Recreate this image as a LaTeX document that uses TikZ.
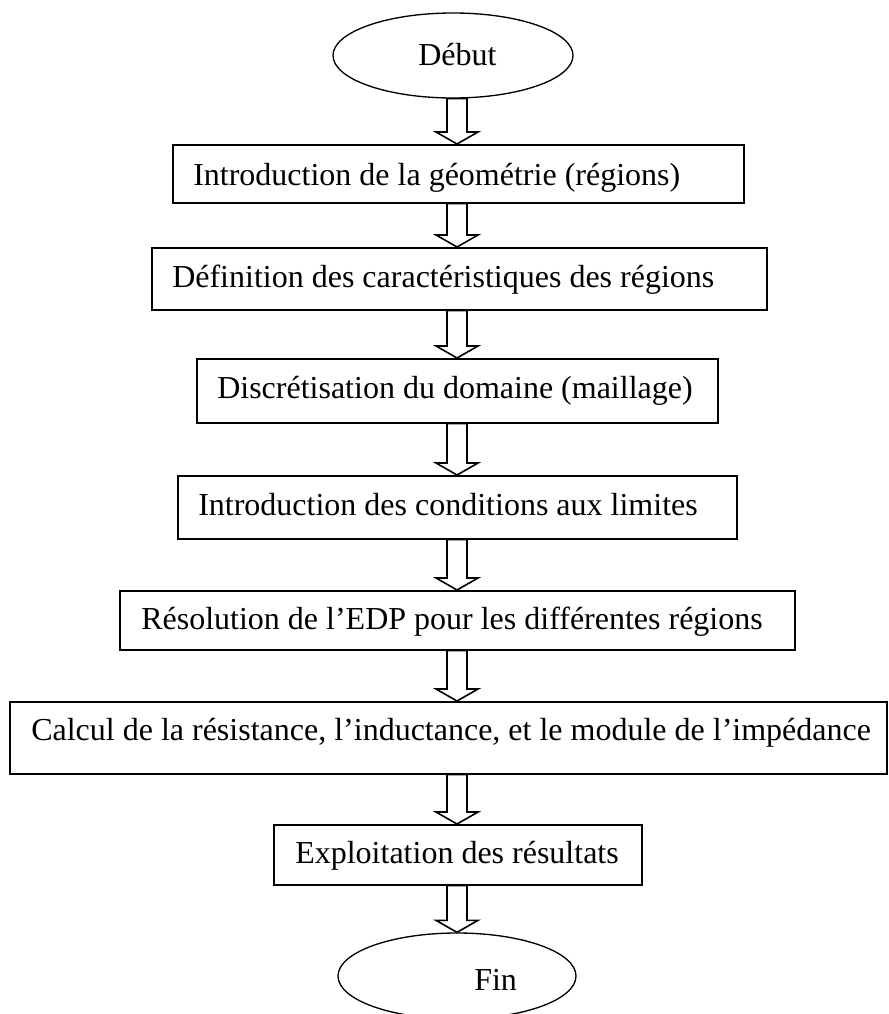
\documentclass[tikz,border=0pt]{standalone}
\usepackage{fontspec}
\setmainfont{Liberation Serif}
\usetikzlibrary{calc,shapes.geometric}

% Hollow block arrow going down from the bottom of one node to the top of the next
\newcommand\flowstep[2]{%
  \draw[hollowarrow]
    ($(ax |- #1.south)+(-10,0)$) -- ($(ax |- #1.south)+(10,0)$)
    -- ($(ax |- #2.north)+(10,-12)$) -- ($(ax |- #2.north)+(21,-12)$)
    -- (ax |- #2.north)
    -- ($(ax |- #2.north)+(-21,-12)$) -- ($(ax |- #2.north)+(-10,-12)$)
    -- cycle;}

\begin{document}
\begin{tikzpicture}[x=0.75pt,y=-0.75pt,
  stepbox/.style 2 args={draw,line width=1.2pt,rectangle,inner sep=0pt,
    anchor=north west,minimum width=#1*0.75pt,minimum height=#2*0.75pt},
  terminal/.style 2 args={draw,line width=1pt,ellipse,inner sep=0pt,
    minimum width=#1*0.75pt,minimum height=#2*0.75pt},
  caption/.style={anchor=base west,inner sep=0pt,font=\fontsize{24}{28}\selectfont},
  hollowarrow/.style={draw,line width=1.2pt,line join=miter}]

\useasboundingbox (0,0) rectangle (889,1014);
\clip (0,0) rectangle (889,1014);

% common vertical axis of the arrows
\coordinate (ax) at (457,0);

% start / end
\node[terminal={240}{85}] (start) at (453,55.5) {};
\node[caption] (startlabel) at (418,65) {Début};

\node[terminal={238}{86}] (stop) at (457,976) {};
\node[caption] (stoplabel) at (474,990) {Fin};

% process steps
\node[stepbox={571}{58}] (b1) at (172,144) {};
\node[caption] (t1) at (193,185) {Introduction de la géométrie (régions)};

\node[stepbox={615}{62}] (b2) at (151,247) {};
\node[caption] (t2) at (172,287) {Définition des caractéristiques des régions};

\node[stepbox={521}{64}] (b3) at (196,358) {};
\node[caption] (t3) at (217,398) {Discrétisation du domaine (maillage)};

\node[stepbox={559}{63}] (b4) at (177,475) {};
\node[caption] (t4) at (198,515) {Introduction des conditions aux limites};

\node[stepbox={675}{59}] (b5) at (119,590) {};
\node[caption] (t5) at (141,629) {Résolution de l’EDP pour les différentes régions};

\node[stepbox={877}{72}] (b6) at (9,701) {};
\node[caption] (t6) at (31,740) {Calcul de la résistance, l’inductance, et le module de l’impédance};

\node[stepbox={368}{60}] (b7) at (273,824) {};
\node[caption] (t7) at (295,863) {Exploitation des résultats};

% flow
\flowstep{start}{b1}
\flowstep{b1}{b2}
\flowstep{b2}{b3}
\flowstep{b3}{b4}
\flowstep{b4}{b5}
\flowstep{b5}{b6}
\flowstep{b6}{b7}
\flowstep{b7}{stop}

\end{tikzpicture}
\end{document}
